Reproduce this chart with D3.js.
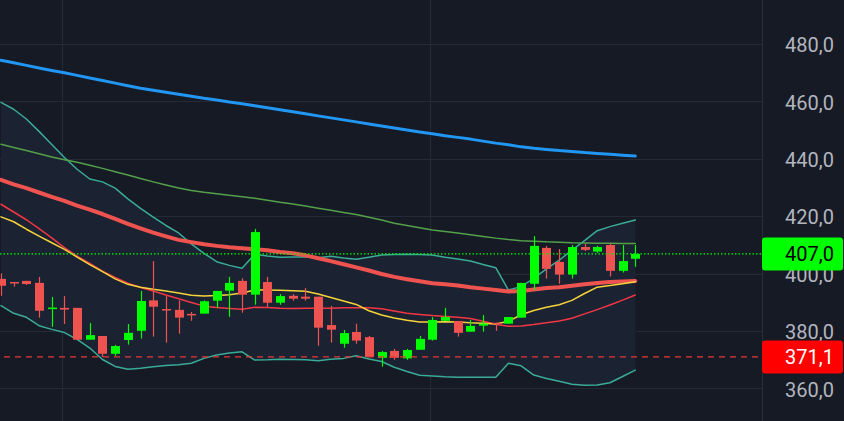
<!DOCTYPE html>
<html>
<head>
<meta charset="utf-8">
<script src="https://cdn.jsdelivr.net/npm/d3@7"></script>
<style>
html,body{margin:0;padding:0;background:#161a25;}
svg{display:block;}
</style>
</head>
<body>
<svg id="chart" width="844" height="421"></svg>
<script>
// ---- data ----
const openV  = [398.3,397.2,397.6,396.9,387.9,388.2,388.2,377.1,378.4,372.2,377.0,380.2,390.8,387.8,387.5,386.1,386.2,390.7,394.2,397.6,392.8,397.2,390.0,392.4,392.1,392.1,382.2,375.7,379.8,378.0,370.8,373.2,370.6,373.6,377.1,383.7,383.6,379.9,382.0,383.0,382.7,384.8,396.6,409.1,404.2,399.8,409.4,407.8,410.1,401.1,405.3];
const highV  = [400.2,397.2,397.6,399.0,392.0,392.3,388.2,382.9,378.4,375.3,382.6,394.1,404.5,392.3,390.8,386.8,390.8,394.1,399.0,398.5,415.7,399.0,393.0,393.0,395.1,392.1,388.9,380.5,382.7,378.4,373.2,373.9,373.9,378.4,385.0,388.2,383.6,384.0,385.7,383.0,385.0,396.9,413.2,409.8,408.7,410.1,410.5,409.8,410.5,410.1,410.1];
const lowV   = [392.4,395.6,396.2,384.8,381.6,382.6,377.1,377.1,371.1,371.5,375.4,377.5,378.2,376.1,379.2,383.7,386.2,388.3,385.1,386.5,389.3,388.3,389.3,390.7,390.7,375.0,376.1,374.3,375.7,371.1,367.7,370.1,370.1,373.6,376.8,383.7,378.2,379.9,379.9,380.2,382.7,384.8,394.4,398.4,396.6,398.4,408.0,407.4,399.1,400.5,402.5];
const closeV = [395.9,396.9,396.5,387.2,388.3,387.6,377.1,378.7,372.2,374.9,379.5,390.6,388.6,387.5,384.8,385.8,390.5,394.1,396.9,392.8,414.6,390.0,392.3,391.4,391.4,381.3,380.6,379.4,376.8,371.1,372.8,370.8,373.5,377.4,384.0,385.0,379.5,381.9,382.7,382.8,385.0,396.9,409.8,401.8,399.8,409.4,408.4,409.4,401.1,404.5,407.0];

const sma200 = [474.5,473.6,472.7,471.8,470.9,470.1,469.2,468.3,467.4,466.5,465.6,464.7,464.0,463.3,462.6,461.9,461.2,460.6,459.9,459.3,458.6,457.9,457.2,456.5,455.8,455.1,454.4,453.7,453.0,452.3,451.6,450.9,450.2,449.5,448.9,448.2,447.6,447.0,446.3,445.6,445.0,444.3,443.8,443.4,443.0,442.7,442.3,442.0,441.7,441.4,441.1];
const sma100 = [445.2,444.1,443.0,441.9,440.8,439.8,438.9,437.9,436.8,435.6,434.5,433.3,432.1,431.0,430.0,429.1,428.5,428.0,427.4,426.9,426.4,425.7,425.0,424.4,423.7,422.9,422.2,421.4,420.7,419.8,418.8,417.7,416.9,416.1,415.3,414.8,414.3,413.7,413.1,412.5,412.0,411.6,411.4,411.2,411.1,410.9,410.8,410.7,410.7,410.6,410.6];
const sma50  = [432.8,431.2,429.9,428.4,426.9,425.5,423.8,422.4,420.9,419.2,417.5,415.9,414.4,413.1,411.9,411.1,410.4,409.8,409.3,409.0,408.6,408.3,407.7,407.2,406.5,405.5,404.5,403.4,402.3,401.2,400.0,399.0,398.2,397.5,396.8,396.4,396.0,395.4,394.9,394.4,393.9,394.1,394.6,395.1,395.4,395.9,396.4,396.9,397.2,397.4,397.6];
const bbBasis= [424.3,421.6,418.9,415.8,412.6,409.2,406.2,403.7,401.0,398.8,396.8,395.3,394.1,392.7,391.4,390.1,388.8,388.3,388.0,387.7,388.4,388.3,388.1,388.0,388.1,388.1,388.1,388.2,388.2,388.2,387.9,387.1,386.3,385.9,385.5,385.2,384.9,384.5,383.5,382.5,381.8,381.9,382.4,383.0,383.6,384.6,386.1,387.6,389.2,390.9,392.7];
const ema20  = [419.9,418.2,415.6,413.2,410.9,408.6,405.9,403.3,400.8,398.3,396.4,395.4,394.7,394.1,393.4,392.6,392.3,392.5,392.8,393.4,394.4,394.4,394.3,394.2,394.0,393.0,391.8,390.6,389.4,387.2,385.7,384.7,383.9,383.3,383.3,383.4,383.3,383.0,382.8,382.6,383.5,385.8,387.3,388.4,389.3,390.8,393.2,395.4,396.0,396.6,397.3];
const bbUpper= [459.8,457.4,454.0,449.7,445.1,440.6,436.5,433.1,432.1,429.9,426.2,422.9,419.8,416.9,414.3,410.5,407.2,404.3,403.0,402.0,406.9,406.3,405.8,405.9,405.9,405.7,406.2,405.6,405.1,405.8,406.6,406.8,406.9,406.8,406.6,405.8,405.2,404.5,403.3,402.2,394.4,395.6,398.5,401.8,404.8,408.3,411.6,415.1,416.5,417.7,418.8];
const bbLower= [389.0,386.3,384.9,382.0,380.7,379.6,377.2,374.2,370.2,367.8,366.8,367.2,367.7,368.1,368.4,368.9,370.6,371.8,372.5,372.9,370.0,370.1,370.3,370.2,370.1,369.8,370.3,370.6,371.5,370.4,369.5,367.5,366.0,364.7,364.5,364.2,364.0,364.0,364.0,364.0,368.9,368.0,364.8,363.6,362.6,361.6,361.2,361.3,362.1,364.3,366.5];

const yTicks = [360,380,400,420,440,460,480];
const timeGridIdx = [5,34];
const lastPrice = 407.0;
const markPrice = 371.1;

// ---- chart ----
const W = 844, H = 421, plotR = 762;
const svg = d3.select("#chart");
const y = d3.scaleLinear().domain([360,480]).range([388.8,44.4]);
const x = d3.scaleLinear().domain([0, openV.length-1]).range([1,635.3]);
const fmt = d3.formatLocale({decimal:",",thousands:".",grouping:[3],currency:["",""]}).format(".1f");
const idx = d3.range(openV.length);

svg.append("rect").attr("width",W).attr("height",H).attr("fill","#161a25");

// grid
const grid = svg.append("g");
grid.selectAll("line.h").data(yTicks).join("line")
  .attr("x1",0).attr("x2",plotR).attr("y1",d=>y(d)).attr("y2",d=>y(d))
  .attr("stroke","#252a37").attr("stroke-width",1).attr("shape-rendering","crispEdges");
grid.selectAll("line.v").data(timeGridIdx).join("line")
  .attr("x1",d=>Math.round(x(d))-1.5).attr("x2",d=>Math.round(x(d))-1.5).attr("y1",0).attr("y2",H)
  .attr("stroke","#252a37").attr("stroke-width",1);

// bollinger fill
svg.append("path").datum(idx)
  .attr("d", d3.area().x(i=>x(i)).y0(i=>y(bbLower[i])).y1(i=>y(bbUpper[i])))
  .attr("fill","#1b2232");

const line = arr => d3.line().x(i=>x(i)).y(i=>y(arr[i]))(idx);
const lines = [
  {a:bbUpper, c:"#3aab98", w:1.5},
  {a:bbLower, c:"#3aab98", w:1.5},
  {a:sma100, c:"#54a04a", w:1.5},
  {a:sma200, c:"#2196f3", w:3},
  {a:sma50,  c:"#ef5350", w:4},
  {a:bbBasis,c:"#f23645", w:1.5},
  {a:ema20,  c:"#f5d33b", w:1.5}
];
svg.append("g").selectAll("path").data(lines).join("path")
  .attr("d",d=>line(d.a)).attr("fill","none")
  .attr("stroke",d=>d.c).attr("stroke-width",d=>d.w)
  .attr("stroke-linejoin","round").attr("stroke-linecap","round");

// candles
const up = "#00ff00", dn = "#ef5350";
const bw = 9;
const cg = svg.append("g");
cg.selectAll("line").data(idx).join("line")
  .attr("x1",i=>Math.round(x(i))+0.5).attr("x2",i=>Math.round(x(i))+0.5)
  .attr("y1",i=>y(highV[i])).attr("y2",i=>y(lowV[i]))
  .attr("stroke",i=>closeV[i]>=openV[i]?up:dn).attr("stroke-width",1.2);
cg.selectAll("rect").data(idx).join("rect")
  .attr("x",i=>Math.round(x(i))+0.5-bw/2)
  .attr("width",bw)
  .attr("y",i=>y(Math.max(openV[i],closeV[i])))
  .attr("height",i=>Math.max(1.5, Math.abs(y(openV[i])-y(closeV[i]))))
  .attr("fill",i=>closeV[i]>=openV[i]?up:dn);

// price lines
svg.append("line").attr("x1",0).attr("x2",plotR).attr("y1",y(lastPrice)).attr("y2",y(lastPrice))
  .attr("stroke","#00ff00").attr("stroke-width",1.3).attr("stroke-dasharray","1.5,2");
svg.append("line").attr("x1",4).attr("x2",plotR).attr("y1",y(markPrice)).attr("y2",y(markPrice))
  .attr("stroke","#e53935").attr("stroke-width",1.2).attr("stroke-dasharray","6,5");

// axis border
svg.append("line").attr("x1",plotR+0.5).attr("x2",plotR+0.5).attr("y1",0).attr("y2",H)
  .attr("stroke","#2a2e39").attr("stroke-width",1);

// y axis labels
const ax = svg.append("g").attr("transform",`translate(${plotR},0)`)
  .call(d3.axisRight(y).tickValues(yTicks).tickSize(0).tickFormat(fmt));
ax.select(".domain").remove();
ax.selectAll("text").attr("x",72).attr("text-anchor","end").attr("dy","0.36em")
  .attr("fill","#b2b5be").style("font-family","Roboto, 'Noto Sans', sans-serif").style("font-size","20px");

// price tags
const tags = [{v:lastPrice, bg:"#00ff00", fg:"#000000"},{v:markPrice, bg:"#ff0000", fg:"#ffffff"}];
const tg = svg.append("g").selectAll("g").data(tags).join("g")
  .attr("transform",d=>`translate(${plotR},${y(d.v)})`);
tg.append("rect").attr("x",0).attr("y",-16.5).attr("width",81).attr("height",33).attr("rx",3)
  .attr("fill",d=>d.bg);
tg.append("text").attr("x",72).attr("dy","0.36em").attr("text-anchor","end")
  .attr("fill",d=>d.fg).style("font-family","Roboto, 'Noto Sans', sans-serif").style("font-size","20px")
  .text(d=>fmt(d.v));
</script>
</body>
</html>
